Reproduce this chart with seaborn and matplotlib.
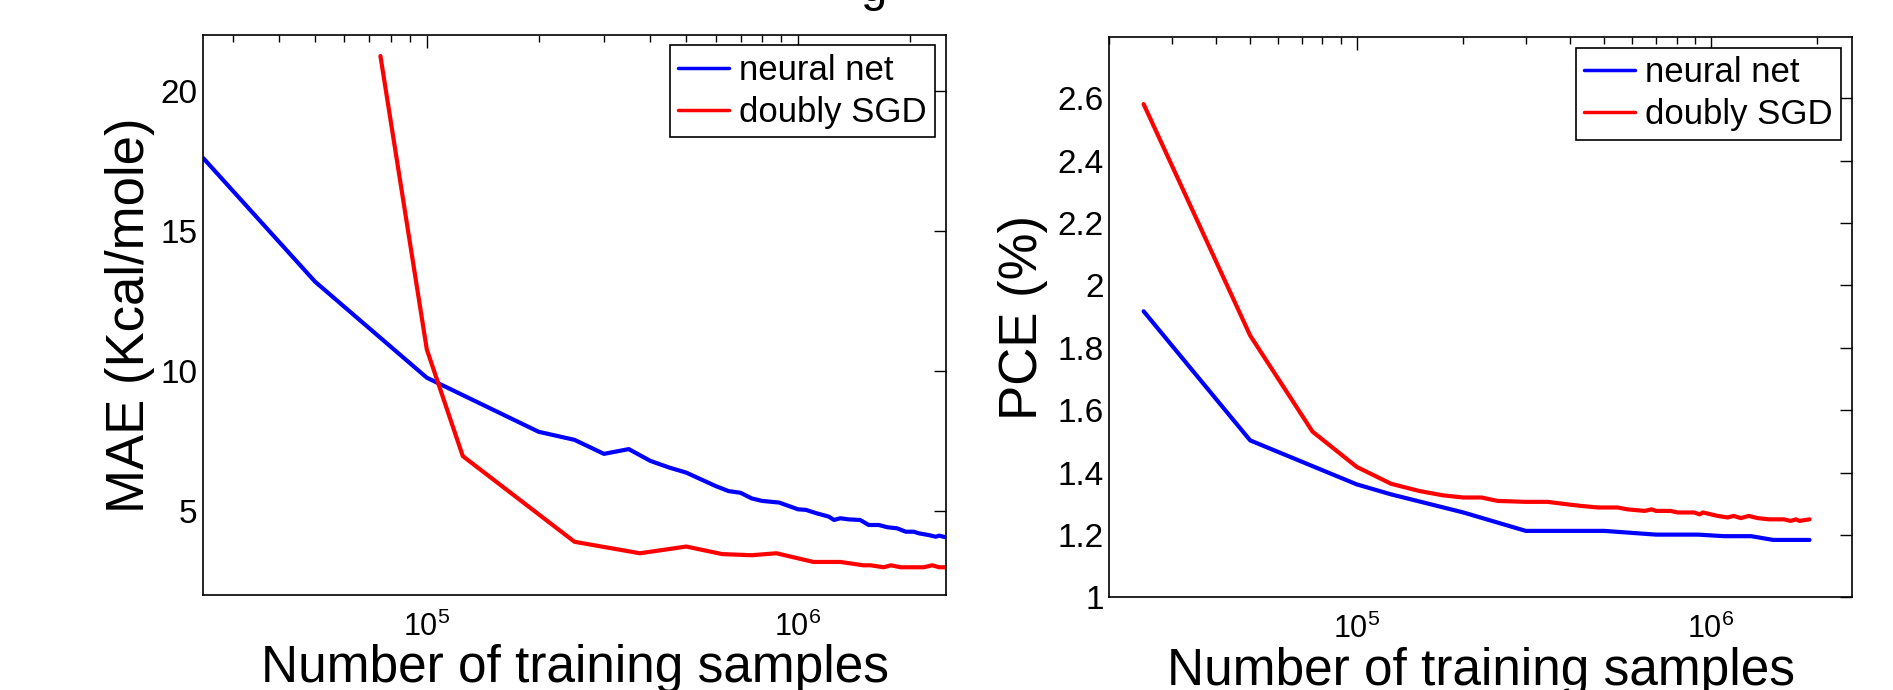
import numpy as np
import pandas as pd
import seaborn as sns
import matplotlib.pyplot as plt
from matplotlib.lines import Line2D

# --- data ---
# left panel: MAE vs number of training samples
mae_nn_x = [2.5e4, 5e4, 1e5, 2e5, 2.5e5, 3e5, 3.5e5, 4e5, 4.5e5, 5e5, 6e5, 6.5e5, 7e5,
            7.5e5, 8e5, 8.9e5, 1e6, 1.05e6, 1.12e6, 1.21e6, 1.25e6, 1.3e6, 1.37e6, 1.47e6,
            1.55e6, 1.65e6, 1.74e6, 1.85e6, 1.95e6, 2.05e6, 2.12e6, 2.25e6, 2.35e6, 2.4e6, 2.5e6]
mae_nn_y = [17.6, 13.19, 9.76, 7.83, 7.54, 7.04, 7.21, 6.79, 6.55, 6.37, 5.89, 5.71, 5.65,
            5.45, 5.36, 5.30, 5.06, 5.04, 4.92, 4.80, 4.68, 4.74, 4.70, 4.68,
            4.50, 4.50, 4.42, 4.38, 4.26, 4.26, 4.20, 4.14, 4.08, 4.12, 4.06]
mae_sgd_x = [7.5e4, 1e5, 1.25e5, 2.5e5, 3.75e5, 5e5, 6.25e5, 7.5e5, 8.75e5, 1.1e6, 1.3e6,
             1.5e6, 1.57e6, 1.7e6, 1.78e6, 1.89e6, 2.18e6, 2.3e6, 2.4e6, 2.5e6]
mae_sgd_y = [21.25, 10.77, 6.96, 3.90, 3.49, 3.73, 3.46, 3.42, 3.49, 3.18, 3.18,
             3.06, 3.06, 2.99, 3.06, 2.99, 2.99, 3.06, 2.99, 2.99]

# right panel: PCE vs number of training samples
pce_nn_x = [2.5e4, 5e4, 1e5, 1.25e5, 2e5, 3e5, 5e5, 7e5, 9.2e5, 1.09e6, 1.3e6, 1.5e6, 1.9e6]
pce_nn_y = [1.917, 1.503, 1.362, 1.33, 1.272, 1.213, 1.213, 1.201, 1.201, 1.196, 1.196, 1.184, 1.184]
pce_sgd_x = [2.5e4, 5e4, 7.5e4, 1e5, 1.25e5, 1.5e5, 1.75e5, 2e5, 2.25e5, 2.5e5, 3e5, 3.46e5,
             3.94e5, 4.3e5, 4.8e5, 5.45e5, 5.82e5, 6.5e5, 6.8e5, 7e5, 7.7e5, 8.06e5, 8.97e5,
             9.3e5, 9.5e5, 1.045e6, 1.115e6, 1.16e6, 1.215e6, 1.28e6, 1.355e6, 1.46e6,
             1.61e6, 1.68e6, 1.74e6, 1.78e6, 1.9e6]
pce_sgd_y = [2.581, 1.839, 1.531, 1.418, 1.364, 1.341, 1.327, 1.320, 1.320, 1.309, 1.306, 1.306,
             1.298, 1.293, 1.288, 1.288, 1.282, 1.277, 1.282, 1.277, 1.277, 1.272, 1.272,
             1.266, 1.272, 1.261, 1.256, 1.261, 1.254, 1.261, 1.254, 1.250,
             1.250, 1.245, 1.250, 1.245, 1.250]

methods = ["neural net", "doubly SGD"]
colors = {"neural net": "#0000ff", "doubly SGD": "#ff0000"}


def make_frame(xn, yn, xs, ys):
    return pd.DataFrame({
        "samples": xn + xs,
        "value": yn + ys,
        "method": [methods[0]] * len(xn) + [methods[1]] * len(xs),
    })


mae_df = make_frame(mae_nn_x, mae_nn_y, mae_sgd_x, mae_sgd_y)
pce_df = make_frame(pce_nn_x, pce_nn_y, pce_sgd_x, pce_sgd_y)

sns.set_style("white")
plt.rcParams["font.family"] = ["Liberation Sans", "DejaVu Sans"]
plt.rcParams["mathtext.fontset"] = "custom"
plt.rcParams["mathtext.rm"] = "Liberation Sans"
plt.rcParams["mathtext.it"] = "Liberation Sans"
for key in ["text.color", "axes.labelcolor", "xtick.color", "ytick.color"]:
    plt.rcParams[key] = "black"

fig = plt.figure(figsize=(18.93, 6.9), dpi=100)
ax1 = fig.add_axes([0.1074, 0.1377, 0.3922, 0.8116])
ax2 = fig.add_axes([0.5860, 0.1343, 0.3922, 0.8116])

panels = [
    (ax1, mae_df, "MAE (Kcal/mole)", (2.5e4, 2.5e6), (2, 22), [5, 10, 15, 20], 4),
    (ax2, pce_df, "PCE (%)", (2e4, 2.5e6), (1, 2.795), [1, 1.2, 1.4, 1.6, 1.8, 2, 2.2, 2.4, 2.6], 7),
]

for ax, df, ylab, xlim, ylim, yticks, ypad in panels:
    sns.lineplot(data=df, x="samples", y="value", hue="method", hue_order=methods,
                 palette=colors, estimator=None, sort=False, lw=3, ax=ax, legend=False)
    ax.set_xscale("log")
    ax.set_xlim(*xlim)
    ax.set_ylim(*ylim)
    ax.set_yticks(yticks)
    ax.set_yticklabels([f"{t:g}" for t in yticks])
    ax.set_xlabel("Number of training samples", fontsize=37, labelpad=1)
    ax.set_ylabel(ylab, fontsize=38, labelpad=ypad)
    ax.tick_params(which="both", direction="in", top=True, right=True,
                   color="black", width=1)
    ax.tick_params(which="major", length=9)
    ax.tick_params(which="minor", length=5)
    ax.tick_params(axis="x", labelsize=22, pad=12)
    ax.tick_params(axis="y", labelsize=24, pad=4)
    for s in ax.spines.values():
        s.set_color("black")
        s.set_linewidth(1.2)
    handles = [Line2D([], [], color=colors[m], lw=2.5) for m in methods]
    leg = ax.legend(handles, methods, loc="upper right", fontsize=25, frameon=True,
                    fancybox=False, framealpha=1, edgecolor="black", handlelength=1.45,
                    handletextpad=0.3, borderpad=0.25, labelspacing=0.25,
                    borderaxespad=0.3)
    leg.get_frame().set_linewidth(1.2)

# only the descender of the cut-off title shows at the top edge
fig.text(0.4617, 0.999, "g", ha="center", va="baseline", fontsize=34)

fig.savefig("out.png", dpi=100)
